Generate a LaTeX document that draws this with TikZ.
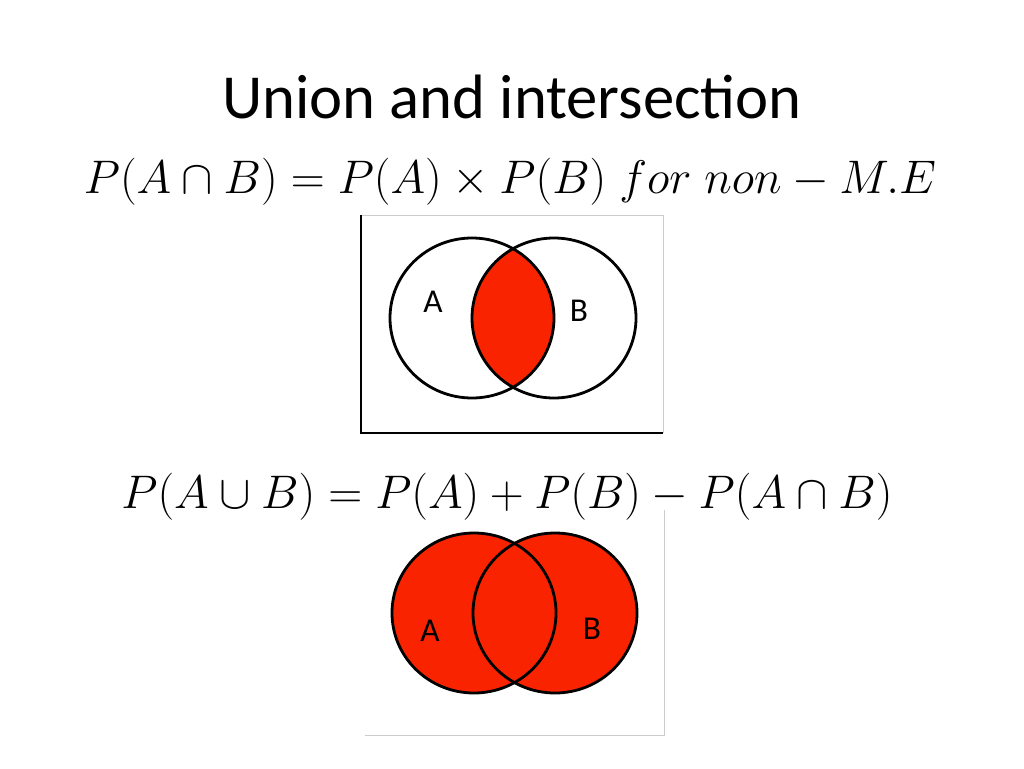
\documentclass[tikz,border=0pt]{standalone}
\usepackage{fontspec}
\setmainfont{Carlito}
\begin{document}
\begin{tikzpicture}[x=0.75pt,y=-0.75pt,
  circ/.style={draw=black,line width=2.1pt},
  lbl/.style={font=\fontsize{25}{30}\selectfont},
  eq/.style={font=\fontsize{24}{28}\selectfont}]
\definecolor{vred}{RGB}{250,35,0}
\useasboundingbox (0,0) rectangle (1024,768);
\node[font=\fontsize{47}{54}\selectfont] (title) at (512,97) {Union and intersection};
\node[eq] (eq1) at (510,182) {\scalebox{1.42}{$P(A\cap B)=P(A)\times P(B)\; for\; non-M.E$}};
% top box
\draw[gray!40,line width=0.5pt] (361,215) -- (663,215) -- (663,433);
\draw[black,line width=1.5pt] (361,215) -- (361,433) -- (663,433);
\begin{scope}
\clip (472,318) ellipse (82 and 80);
\fill[vred] (554,318) ellipse (82 and 80);
\end{scope}
\draw[circ] (472,318) ellipse (82 and 80);
\draw[circ] (554,318) ellipse (82 and 80);
\node[lbl] (a1) at (433,302) {A};
\node[lbl] (b1) at (579,311) {B};
\node[eq] (eq2) at (507,497) {\scalebox{1.42}{$P(A\cup B)=P(A)+P(B)-P(A\cap B)$}};
% bottom box
\draw[gray!40,line width=0.5pt] (664,510) -- (664,735) -- (365,735);
\fill[vred] (474,613) ellipse (82 and 80);
\fill[vred] (555,613) ellipse (82 and 80);
\draw[circ] (474,613) ellipse (82 and 80);
\draw[circ] (555,613) ellipse (82 and 80);
\node[lbl] (a2) at (430,631) {A};
\node[lbl] (b2) at (592,629) {B};
\end{tikzpicture}
\end{document}
